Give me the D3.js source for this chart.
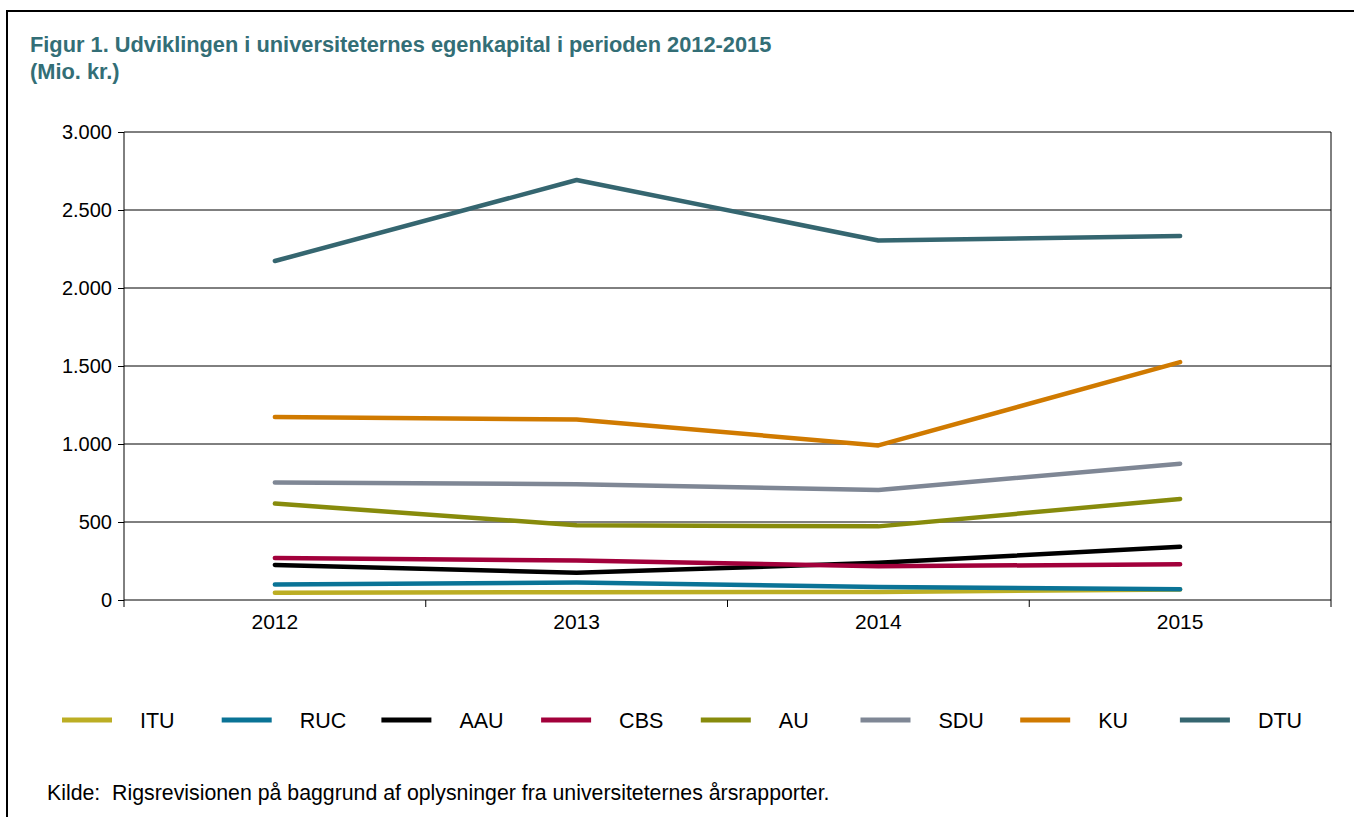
<!DOCTYPE html>
<html>
<head>
<meta charset="utf-8">
<script src="https://cdn.jsdelivr.net/npm/d3@7"></script>
<style>
  body { margin: 0; background: #fff; }
  svg { display: block; font-family: "Liberation Sans", Arial, sans-serif; }
</style>
</head>
<body>
<div id="chart"></div>
<script>
// data (Mio. kr.)
var years = ["2012", "2013", "2014", "2015"];
var names = ["ITU", "RUC", "AAU", "CBS", "AU", "SDU", "KU", "DTU"];
var colors = ["#bcae24", "#0a7396", "#000000", "#a2003b", "#878b0c", "#7f8795", "#d07a00", "#356670"];
var itu = [46, 50, 52, 68];
var ruc = [99, 112, 84, 69];
var aau = [225, 174, 238, 341];
var cbs = [270, 253, 216, 229];
var au = [618, 479, 472, 648];
var sdu = [754, 742, 705, 874];
var ku = [1173, 1157, 991, 1525];
var dtu = [2173, 2692, 2305, 2333];
var yTicks = [0, 500, 1000, 1500, 2000, 2500, 3000];

var series = [itu, ruc, aau, cbs, au, sdu, ku, dtu].map(function(v, i) {
  return { name: names[i], color: colors[i], values: v };
});

var W = 1354, H = 817;
var margin = { top: 132, right: 23, bottom: 217, left: 124 };
var width = W - margin.left - margin.right,
    height = H - margin.top - margin.bottom;

var svg = d3.select("#chart").append("svg")
  .attr("width", W)
  .attr("height", H);

// outer frame (top + left only)
svg.append("path")
  .attr("d", "M7," + H + " V11 H" + W)
  .attr("fill", "none")
  .attr("stroke", "#000")
  .attr("stroke-width", 2);

// title
var title = svg.append("text")
  .attr("x", 30)
  .attr("y", 52)
  .attr("fill", "#336e76")
  .style("font-weight", "bold")
  .style("font-size", "21.8px");
title.append("tspan").attr("x", 30).text("Figur 1. Udviklingen i universiteternes egenkapital i perioden 2012-2015");
title.append("tspan").attr("x", 30).attr("dy", 27).text("(Mio. kr.)");

var g = svg.append("g")
  .attr("transform", "translate(" + margin.left + "," + margin.top + ")");

var x = d3.scaleBand().domain(years).range([0, width]);
var y = d3.scaleLinear().domain([0, 3000]).range([height, 0]);

// grid lines
g.selectAll(".grid")
  .data(yTicks.slice(1))
  .enter().append("line")
  .attr("x1", 0).attr("x2", width)
  .attr("y1", function(d) { return y(d); })
  .attr("y2", function(d) { return y(d); })
  .attr("stroke", "#000")
  .attr("stroke-width", 1);

// right border of plot
g.append("line")
  .attr("x1", width).attr("x2", width)
  .attr("y1", 0).attr("y2", height)
  .attr("stroke", "#000");

// y axis
var yAxis = g.append("g")
  .call(d3.axisLeft(y).tickValues(yTicks).tickSize(6).tickPadding(6)
    .tickFormat(function(d) { return d3.format(",")(d).replace(",", "."); }));
yAxis.select(".domain").attr("d", "M0,0V" + height);
yAxis.selectAll("text").style("font-size", "20px").attr("fill", "#000")
  .style("font-family", "Liberation Sans, Arial, sans-serif");

// x axis with ticks between categories
var xAxis = g.append("g")
  .attr("transform", "translate(0," + height + ")");
xAxis.append("line")
  .attr("x1", 0).attr("x2", width)
  .attr("stroke", "#000");
xAxis.selectAll(".tk")
  .data(d3.range(years.length + 1))
  .enter().append("line")
  .attr("x1", function(i) { return i * x.step(); })
  .attr("x2", function(i) { return i * x.step(); })
  .attr("y1", 0).attr("y2", 7)
  .attr("stroke", "#000");
xAxis.selectAll(".lbl")
  .data(years)
  .enter().append("text")
  .attr("x", function(d) { return x(d) + x.bandwidth() / 2; })
  .attr("y", 29)
  .attr("text-anchor", "middle")
  .style("font-size", "21px")
  .text(function(d) { return d; });

// lines
var line = d3.line()
  .x(function(d, i) { return x(years[i]) + x.bandwidth() / 2; })
  .y(function(d) { return y(d); });

g.selectAll(".series")
  .data(series)
  .enter().append("path")
  .attr("d", function(d) { return line(d.values); })
  .attr("fill", "none")
  .attr("stroke", function(d) { return d.color; })
  .attr("stroke-width", 4.5)
  .attr("stroke-linecap", "round")
  .attr("stroke-linejoin", "round");

// legend
var leg = svg.selectAll(".leg")
  .data(series)
  .enter().append("g")
  .attr("transform", function(d, i) { return "translate(" + (62 + i * 159.7) + ",720)"; });
leg.append("line")
  .attr("x1", 0).attr("x2", 50)
  .attr("stroke", function(d) { return d.color; })
  .attr("stroke-width", 5);
leg.append("text")
  .attr("x", 78)
  .attr("y", 7.5)
  .style("font-size", "21.5px")
  .text(function(d) { return d.name; });

// source
svg.append("text")
  .attr("x", 47)
  .attr("y", 800)
  .style("font-size", "21.3px")
  .attr("xml:space", "preserve")
  .text("Kilde:  Rigsrevisionen på baggrund af oplysninger fra universiteternes årsrapporter.");
</script>
</body>
</html>
